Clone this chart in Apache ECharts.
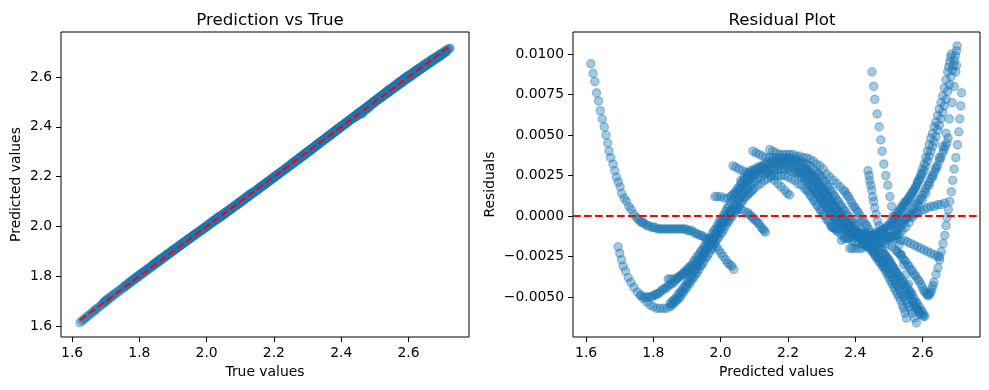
<!DOCTYPE html>
<html><head><meta charset="utf-8">
<script src="https://cdn.jsdelivr.net/npm/echarts@6.0.0/dist/echarts.min.js"></script>
<style>html,body{margin:0;padding:0;background:#fff}#c{width:989px;height:390px}</style>
</head><body><div id="c"></div>
<script>
// Each track: [predicted value, residual]
const trackA = [[1.614,0.0094],[1.621,0.0088],[1.626,0.0083],[1.631,0.0076],[1.637,0.0071],[1.642,0.0065],[1.648,0.0060],[1.654,0.0055],[1.659,0.0050],[1.664,0.0045],[1.668,0.0040],[1.673,0.0036],[1.680,0.0032],[1.685,0.0028],[1.690,0.0024],[1.696,0.0021],[1.701,0.0018],[1.706,0.0014],[1.713,0.0011],[1.720,0.0009],[1.727,0.0006],[1.734,0.0004],[1.742,0.0001],[1.750,-0.0001],[1.755,-0.0002],[1.760,-0.0003],[1.765,-0.0004],[1.770,-0.0004],[1.775,-0.0005],[1.781,-0.0006],[1.787,-0.0006],[1.794,-0.0007],[1.800,-0.0007],[1.806,-0.0007],[1.812,-0.0008],[1.818,-0.0008],[1.824,-0.0008],[1.830,-0.0008],[1.836,-0.0008],[1.842,-0.0008],[1.848,-0.0008],[1.854,-0.0008],[1.860,-0.0008],[1.866,-0.0008],[1.872,-0.0008],[1.878,-0.0008],[1.884,-0.0008],[1.890,-0.0008],[1.896,-0.0008],[1.902,-0.0009],[1.908,-0.0009],[1.914,-0.0009],[1.920,-0.0010],[1.926,-0.0011],[1.932,-0.0011],[1.938,-0.0012],[1.944,-0.0012],[1.950,-0.0013],[1.956,-0.0014],[1.962,-0.0014],[1.968,-0.0015],[1.974,-0.0016],[1.980,-0.0017],[1.987,-0.0019],[1.994,-0.0021],[2.001,-0.0023],[2.008,-0.0025],[2.015,-0.0027],[2.021,-0.0029],[2.027,-0.0030],[2.033,-0.0031],[2.039,-0.0033]];
const trackL1 = [[1.695,-0.0019],[1.700,-0.0023],[1.705,-0.0027],[1.710,-0.0031],[1.717,-0.0034],[1.725,-0.0038],[1.733,-0.0041],[1.742,-0.0044],[1.752,-0.0047],[1.762,-0.0049],[1.775,-0.0050],[1.782,-0.0050],[1.789,-0.0050],[1.795,-0.0050],[1.800,-0.0049],[1.805,-0.0049],[1.810,-0.0048],[1.815,-0.0048],[1.820,-0.0047],[1.825,-0.0046],[1.830,-0.0045],[1.835,-0.0045],[1.840,-0.0044],[1.845,-0.0043],[1.850,-0.0042],[1.855,-0.0042],[1.860,-0.0041],[1.865,-0.0040],[1.870,-0.0039],[1.875,-0.0038],[1.880,-0.0037],[1.885,-0.0036],[1.890,-0.0035],[1.895,-0.0034],[1.900,-0.0033],[1.905,-0.0032],[1.910,-0.0031],[1.915,-0.0030],[1.920,-0.0028],[1.925,-0.0027],[1.930,-0.0025],[1.935,-0.0024],[1.940,-0.0022],[1.945,-0.0021],[1.950,-0.0019],[1.955,-0.0018],[1.960,-0.0016],[1.965,-0.0014],[1.970,-0.0013],[1.975,-0.0011],[1.980,-0.0009],[1.985,-0.0008],[1.990,-0.0006],[1.995,-0.0004],[2.000,-0.0002],[2.005,-0.0001],[2.010,0.0001],[2.015,0.0003],[2.020,0.0005],[2.025,0.0006],[2.030,0.0008],[2.035,0.0010],[2.040,0.0011],[2.045,0.0013],[2.050,0.0014],[2.055,0.0016],[2.060,0.0017],[2.065,0.0018],[2.070,0.0019],[2.075,0.0020],[2.080,0.0021],[2.085,0.0022],[2.090,0.0023],[2.095,0.0024],[2.100,0.0025],[2.110,0.0026],[2.120,0.0027],[2.130,0.0028],[2.140,0.0029],[2.150,0.0030],[2.160,0.0030],[2.170,0.0031],[2.180,0.0031],[2.190,0.0031],[2.200,0.0030],[2.210,0.0030],[2.220,0.0029],[2.225,0.0028],[2.230,0.0027],[2.235,0.0027],[2.240,0.0026],[2.245,0.0025],[2.250,0.0024],[2.255,0.0023],[2.260,0.0022],[2.265,0.0020],[2.270,0.0019],[2.275,0.0018],[2.280,0.0017],[2.285,0.0015],[2.290,0.0014],[2.295,0.0012],[2.300,0.0011],[2.305,0.0009],[2.310,0.0008],[2.315,0.0006],[2.320,0.0005],[2.325,0.0003],[2.330,0.0002],[2.335,0.0000],[2.340,-0.0001],[2.345,-0.0002],[2.350,-0.0003],[2.355,-0.0004],[2.360,-0.0005],[2.365,-0.0006],[2.370,-0.0007],[2.375,-0.0008],[2.380,-0.0009],[2.385,-0.0010],[2.390,-0.0010],[2.395,-0.0011],[2.400,-0.0012],[2.405,-0.0012],[2.410,-0.0013],[2.415,-0.0014],[2.420,-0.0015],[2.425,-0.0016],[2.430,-0.0017],[2.435,-0.0018],[2.440,-0.0019],[2.445,-0.0020],[2.450,-0.0022],[2.455,-0.0023],[2.460,-0.0025],[2.465,-0.0026],[2.470,-0.0028],[2.475,-0.0029],[2.480,-0.0031],[2.485,-0.0032],[2.490,-0.0034],[2.495,-0.0036],[2.500,-0.0038],[2.505,-0.0040],[2.510,-0.0042],[2.515,-0.0044],[2.520,-0.0046],[2.525,-0.0048],[2.530,-0.0050],[2.535,-0.0052],[2.540,-0.0055],[2.544,-0.0057],[2.548,-0.0060],[2.552,-0.0063]];
const trackL2 = [[1.762,-0.0049],[1.770,-0.0051],[1.780,-0.0053],[1.790,-0.0055],[1.800,-0.0056],[1.810,-0.0057],[1.820,-0.0057],[1.830,-0.0057],[1.840,-0.0057],[1.850,-0.0056],[1.855,-0.0055],[1.860,-0.0054],[1.865,-0.0053],[1.870,-0.0052],[1.875,-0.0051],[1.880,-0.0050],[1.885,-0.0048],[1.890,-0.0047],[1.895,-0.0045],[1.900,-0.0044],[1.905,-0.0042],[1.910,-0.0041],[1.915,-0.0039],[1.920,-0.0038],[1.925,-0.0036],[1.930,-0.0035],[1.935,-0.0033],[1.940,-0.0031],[1.945,-0.0030],[1.950,-0.0028],[1.955,-0.0026],[1.960,-0.0025],[1.965,-0.0023],[1.970,-0.0021],[1.975,-0.0020],[1.980,-0.0018],[1.985,-0.0016],[1.990,-0.0014],[1.995,-0.0013],[2.000,-0.0011],[2.005,-0.0010],[2.010,-0.0008],[2.015,-0.0006],[2.020,-0.0004],[2.025,-0.0003],[2.030,-0.0001],[2.035,0.0000],[2.040,0.0002],[2.045,0.0003],[2.050,0.0005],[2.055,0.0006],[2.060,0.0008],[2.065,0.0009],[2.070,0.0011],[2.075,0.0012],[2.080,0.0013],[2.085,0.0014],[2.090,0.0015],[2.095,0.0016],[2.100,0.0017],[2.110,0.0019],[2.120,0.0020],[2.130,0.0022],[2.140,0.0023],[2.150,0.0024],[2.160,0.0025],[2.170,0.0025],[2.180,0.0025],[2.190,0.0025],[2.200,0.0024],[2.210,0.0023],[2.220,0.0022],[2.230,0.0020],[2.240,0.0019],[2.250,0.0017],[2.255,0.0016],[2.260,0.0015],[2.265,0.0013],[2.270,0.0012],[2.275,0.0010],[2.280,0.0009],[2.285,0.0007],[2.290,0.0006],[2.295,0.0004],[2.300,0.0003],[2.305,0.0001],[2.310,0.0000],[2.315,-0.0002],[2.320,-0.0003],[2.325,-0.0005],[2.330,-0.0006],[2.335,-0.0007],[2.340,-0.0008],[2.345,-0.0009],[2.350,-0.0010],[2.360,-0.0012],[2.370,-0.0013],[2.380,-0.0014],[2.390,-0.0015],[2.400,-0.0016],[2.410,-0.0017],[2.420,-0.0017],[2.430,-0.0018],[2.440,-0.0019],[2.445,-0.0020],[2.450,-0.0021],[2.455,-0.0022],[2.460,-0.0023],[2.465,-0.0025],[2.470,-0.0026],[2.475,-0.0027],[2.480,-0.0029],[2.485,-0.0030],[2.490,-0.0032],[2.495,-0.0033],[2.500,-0.0035],[2.505,-0.0036],[2.510,-0.0038],[2.515,-0.0040],[2.520,-0.0042],[2.525,-0.0043],[2.530,-0.0045],[2.535,-0.0047],[2.540,-0.0049],[2.545,-0.0050],[2.550,-0.0052],[2.555,-0.0054],[2.560,-0.0056],[2.565,-0.0058],[2.570,-0.0060],[2.576,-0.0063],[2.582,-0.0066]];
const trackL2b = [[1.850,-0.0054],[1.855,-0.0053],[1.860,-0.0052],[1.865,-0.0051],[1.870,-0.0050],[1.875,-0.0048],[1.880,-0.0047],[1.885,-0.0046],[1.890,-0.0044],[1.895,-0.0043],[1.900,-0.0041],[1.905,-0.0040],[1.910,-0.0038],[1.915,-0.0036],[1.920,-0.0034],[1.925,-0.0033],[1.930,-0.0031],[1.935,-0.0029],[1.940,-0.0027],[1.945,-0.0026],[1.950,-0.0024],[1.955,-0.0022],[1.960,-0.0020],[1.965,-0.0019],[1.970,-0.0017],[1.975,-0.0015],[1.980,-0.0013],[1.985,-0.0011],[1.990,-0.0009],[1.995,-0.0007],[2.000,-0.0005],[2.005,-0.0004],[2.010,-0.0002],[2.015,-0.0001],[2.020,0.0001],[2.025,0.0002],[2.030,0.0003],[2.035,0.0003],[2.040,0.0004],[2.050,0.0004],[2.060,0.0004],[2.070,0.0003],[2.080,0.0002],[2.085,0.0001],[2.090,0.0000],[2.095,-0.0001],[2.100,-0.0002],[2.105,-0.0003],[2.110,-0.0004],[2.115,-0.0005],[2.120,-0.0007],[2.125,-0.0008],[2.129,-0.0009],[2.133,-0.0010]];
const trackL3 = [[1.844,-0.0039],[1.850,-0.0039],[1.860,-0.0039],[1.870,-0.0038],[1.880,-0.0037],[1.890,-0.0036],[1.900,-0.0035],[1.905,-0.0034],[1.910,-0.0033],[1.915,-0.0032],[1.920,-0.0031],[1.925,-0.0030],[1.930,-0.0029],[1.935,-0.0027],[1.940,-0.0026],[1.945,-0.0024],[1.950,-0.0023],[1.955,-0.0021],[1.960,-0.0020],[1.965,-0.0018],[1.970,-0.0017],[1.975,-0.0015],[1.980,-0.0014],[1.985,-0.0012],[1.990,-0.0011],[1.995,-0.0009],[2.000,-0.0008],[2.005,-0.0006],[2.010,-0.0004],[2.015,-0.0003],[2.020,-0.0001],[2.025,0.0001],[2.030,0.0003],[2.035,0.0004],[2.040,0.0006],[2.045,0.0007],[2.050,0.0009],[2.055,0.0010],[2.060,0.0012],[2.065,0.0013],[2.070,0.0015],[2.075,0.0016],[2.080,0.0017],[2.090,0.0019],[2.100,0.0021],[2.110,0.0023],[2.120,0.0024],[2.130,0.0026],[2.140,0.0027],[2.150,0.0028],[2.160,0.0028],[2.170,0.0029],[2.180,0.0029],[2.190,0.0029],[2.200,0.0029],[2.210,0.0028],[2.220,0.0027],[2.230,0.0026],[2.240,0.0024],[2.250,0.0022],[2.260,0.0020],[2.270,0.0018],[2.275,0.0017],[2.280,0.0015],[2.285,0.0014],[2.290,0.0013],[2.295,0.0011],[2.300,0.0010],[2.305,0.0008],[2.310,0.0007],[2.315,0.0005],[2.320,0.0004],[2.325,0.0002],[2.330,0.0001],[2.335,0.0000],[2.340,-0.0002],[2.345,-0.0003],[2.350,-0.0004],[2.360,-0.0006],[2.370,-0.0008],[2.380,-0.0010],[2.390,-0.0011],[2.400,-0.0012],[2.410,-0.0013],[2.420,-0.0014],[2.430,-0.0015],[2.440,-0.0016],[2.450,-0.0017],[2.460,-0.0019],[2.470,-0.0021],[2.480,-0.0023],[2.490,-0.0025],[2.495,-0.0026],[2.500,-0.0028],[2.505,-0.0029],[2.510,-0.0031],[2.515,-0.0032],[2.520,-0.0034],[2.525,-0.0035],[2.530,-0.0037],[2.535,-0.0038],[2.540,-0.0040],[2.545,-0.0041],[2.550,-0.0043],[2.555,-0.0044],[2.560,-0.0046],[2.565,-0.0047],[2.570,-0.0049],[2.575,-0.0051],[2.580,-0.0053],[2.585,-0.0054],[2.590,-0.0056],[2.595,-0.0058],[2.600,-0.0059],[2.604,-0.0061],[2.607,-0.0062]];
const trackL4 = [[1.983,0.0012],[1.990,0.0012],[2.000,0.0012],[2.010,0.0011],[2.020,0.0011],[2.030,0.0012],[2.035,0.0013],[2.040,0.0014],[2.045,0.0015],[2.050,0.0017],[2.055,0.0018],[2.060,0.0020],[2.065,0.0021],[2.070,0.0022],[2.075,0.0023],[2.080,0.0024],[2.085,0.0025],[2.090,0.0026],[2.100,0.0028],[2.110,0.0029],[2.120,0.0031],[2.130,0.0032],[2.140,0.0033],[2.150,0.0034],[2.160,0.0034],[2.170,0.0035],[2.180,0.0035],[2.190,0.0035],[2.200,0.0035],[2.210,0.0034],[2.220,0.0034],[2.230,0.0033],[2.240,0.0032],[2.250,0.0030],[2.255,0.0029],[2.260,0.0028],[2.265,0.0027],[2.270,0.0026],[2.275,0.0025],[2.280,0.0024],[2.285,0.0022],[2.290,0.0021],[2.295,0.0019],[2.300,0.0018],[2.305,0.0016],[2.310,0.0015],[2.315,0.0013],[2.320,0.0012],[2.325,0.0010],[2.330,0.0009],[2.335,0.0007],[2.340,0.0006],[2.345,0.0004],[2.350,0.0003],[2.355,0.0001],[2.360,0.0000],[2.365,-0.0002],[2.370,-0.0003],[2.375,-0.0004],[2.380,-0.0005],[2.385,-0.0006],[2.390,-0.0007],[2.400,-0.0009],[2.410,-0.0010],[2.420,-0.0011],[2.430,-0.0012],[2.440,-0.0012],[2.450,-0.0013],[2.460,-0.0014],[2.470,-0.0015],[2.480,-0.0016],[2.490,-0.0017],[2.500,-0.0018],[2.510,-0.0019],[2.520,-0.0021],[2.525,-0.0022],[2.530,-0.0023],[2.535,-0.0024],[2.540,-0.0026],[2.545,-0.0027],[2.550,-0.0028],[2.555,-0.0030],[2.560,-0.0031],[2.565,-0.0033],[2.570,-0.0034],[2.575,-0.0036],[2.580,-0.0037],[2.585,-0.0039],[2.590,-0.0040],[2.595,-0.0042],[2.600,-0.0044],[2.604,-0.0046],[2.608,-0.0047],[2.612,-0.0048],[2.615,-0.0049],[2.619,-0.0049],[2.622,-0.0048],[2.625,-0.0047],[2.628,-0.0045],[2.631,-0.0043],[2.634,-0.0041],[2.640,-0.0036],[2.646,-0.0032],[2.651,-0.0027],[2.656,-0.0022],[2.661,-0.0017],[2.666,-0.0012],[2.670,-0.0006],[2.673,-0.0001],[2.677,0.0004],[2.681,0.0009],[2.686,0.0015],[2.690,0.0022],[2.694,0.0029],[2.699,0.0036],[2.704,0.0044],[2.708,0.0052],[2.711,0.0060],[2.714,0.0068],[2.716,0.0076]];
const trackL5 = [[2.037,0.0031],[2.045,0.0030],[2.055,0.0029],[2.065,0.0028],[2.075,0.0027],[2.085,0.0027],[2.095,0.0027],[2.105,0.0028],[2.115,0.0029],[2.125,0.0030],[2.135,0.0031],[2.145,0.0032],[2.155,0.0033],[2.165,0.0033],[2.175,0.0033],[2.185,0.0033],[2.195,0.0033],[2.205,0.0033],[2.215,0.0032],[2.225,0.0032],[2.235,0.0031],[2.245,0.0029],[2.250,0.0028],[2.255,0.0027],[2.260,0.0026],[2.265,0.0025],[2.270,0.0024],[2.275,0.0023],[2.280,0.0022],[2.285,0.0021],[2.290,0.0019],[2.295,0.0018],[2.300,0.0017],[2.305,0.0016],[2.310,0.0014],[2.315,0.0013],[2.320,0.0011],[2.325,0.0010],[2.330,0.0008],[2.335,0.0007],[2.340,0.0005],[2.345,0.0004],[2.350,0.0002],[2.355,0.0001],[2.360,-0.0001],[2.365,-0.0002],[2.370,-0.0003],[2.375,-0.0004],[2.380,-0.0006],[2.385,-0.0007],[2.390,-0.0008],[2.395,-0.0009],[2.405,-0.0010],[2.415,-0.0011],[2.425,-0.0012],[2.435,-0.0013],[2.445,-0.0013],[2.455,-0.0013],[2.465,-0.0012],[2.475,-0.0011],[2.485,-0.0010],[2.495,-0.0008],[2.505,-0.0006],[2.510,-0.0005],[2.515,-0.0003],[2.520,-0.0002],[2.525,0.0000],[2.530,0.0001],[2.535,0.0003],[2.540,0.0004],[2.545,0.0006],[2.550,0.0007],[2.555,0.0009],[2.560,0.0010],[2.565,0.0012],[2.570,0.0014],[2.575,0.0016],[2.580,0.0018],[2.585,0.0020],[2.590,0.0022],[2.595,0.0024],[2.600,0.0026],[2.605,0.0028],[2.610,0.0031],[2.615,0.0034],[2.620,0.0037],[2.625,0.0040],[2.630,0.0043],[2.635,0.0046],[2.640,0.0049],[2.645,0.0053],[2.650,0.0056],[2.655,0.0060],[2.660,0.0064],[2.665,0.0068],[2.670,0.0072],[2.675,0.0077],[2.680,0.0081],[2.685,0.0086],[2.689,0.0090],[2.692,0.0093],[2.695,0.0096],[2.698,0.0099],[2.701,0.0102],[2.703,0.0105]];
const trackL6 = [[2.096,0.0040],[2.105,0.0039],[2.115,0.0038],[2.125,0.0037],[2.135,0.0036],[2.145,0.0036],[2.155,0.0036],[2.165,0.0036],[2.175,0.0036],[2.185,0.0036],[2.195,0.0036],[2.205,0.0036],[2.215,0.0035],[2.225,0.0035],[2.235,0.0034],[2.245,0.0033],[2.255,0.0032],[2.265,0.0031],[2.275,0.0029],[2.285,0.0027],[2.290,0.0026],[2.295,0.0025],[2.300,0.0024],[2.305,0.0022],[2.310,0.0021],[2.315,0.0019],[2.320,0.0018],[2.325,0.0016],[2.330,0.0015],[2.335,0.0013],[2.340,0.0012],[2.345,0.0010],[2.350,0.0009],[2.355,0.0007],[2.360,0.0006],[2.365,0.0004],[2.370,0.0003],[2.375,0.0001],[2.380,0.0000],[2.385,-0.0002],[2.390,-0.0003],[2.395,-0.0004],[2.400,-0.0005],[2.405,-0.0006],[2.415,-0.0008],[2.425,-0.0010],[2.435,-0.0011],[2.445,-0.0012],[2.455,-0.0012],[2.465,-0.0011],[2.475,-0.0010],[2.485,-0.0008],[2.495,-0.0006],[2.505,-0.0004],[2.510,-0.0003],[2.515,-0.0001],[2.520,0.0000],[2.525,0.0002],[2.530,0.0003],[2.535,0.0005],[2.540,0.0006],[2.545,0.0008],[2.550,0.0009],[2.555,0.0010],[2.560,0.0012],[2.565,0.0013],[2.570,0.0015],[2.575,0.0016],[2.580,0.0018],[2.585,0.0021],[2.590,0.0023],[2.595,0.0026],[2.600,0.0029],[2.605,0.0032],[2.610,0.0036],[2.615,0.0040],[2.620,0.0044],[2.625,0.0048],[2.630,0.0051],[2.635,0.0055],[2.640,0.0058],[2.645,0.0062],[2.650,0.0066],[2.655,0.0070],[2.660,0.0074],[2.665,0.0079],[2.670,0.0084],[2.675,0.0089],[2.678,0.0092],[2.681,0.0095],[2.684,0.0098],[2.686,0.0100]];
const trackL7 = [[2.146,0.0041],[2.155,0.0040],[2.165,0.0039],[2.175,0.0038],[2.185,0.0038],[2.195,0.0038],[2.205,0.0038],[2.215,0.0038],[2.225,0.0037],[2.235,0.0037],[2.245,0.0036],[2.255,0.0036],[2.265,0.0035],[2.275,0.0034],[2.285,0.0032],[2.295,0.0031],[2.305,0.0029],[2.315,0.0026],[2.325,0.0024],[2.335,0.0022],[2.345,0.0020],[2.355,0.0018],[2.365,0.0016],[2.370,0.0015],[2.375,0.0013],[2.380,0.0012],[2.385,0.0010],[2.390,0.0008],[2.395,0.0006],[2.400,0.0005],[2.405,0.0003],[2.410,0.0002],[2.415,0.0000],[2.420,-0.0002],[2.425,-0.0003],[2.430,-0.0005],[2.435,-0.0006],[2.440,-0.0008],[2.445,-0.0010],[2.450,-0.0012],[2.455,-0.0014],[2.460,-0.0015],[2.465,-0.0017],[2.470,-0.0018],[2.475,-0.0020],[2.480,-0.0021],[2.485,-0.0023],[2.490,-0.0024],[2.495,-0.0026],[2.500,-0.0027],[2.505,-0.0029],[2.510,-0.0031],[2.515,-0.0033],[2.520,-0.0035],[2.525,-0.0037],[2.530,-0.0039],[2.535,-0.0041],[2.540,-0.0042],[2.545,-0.0044],[2.550,-0.0046],[2.555,-0.0048],[2.560,-0.0049],[2.565,-0.0051],[2.570,-0.0053],[2.575,-0.0055],[2.580,-0.0056],[2.585,-0.0058],[2.590,-0.0059],[2.595,-0.0061],[2.602,-0.0062]];
const trackSb = [[2.060,0.0022],[2.070,0.0024],[2.080,0.0026],[2.090,0.0028],[2.100,0.0029],[2.110,0.0030],[2.120,0.0030],[2.130,0.0029],[2.140,0.0027],[2.150,0.0025],[2.160,0.0022],[2.170,0.0020],[2.180,0.0018],[2.190,0.0016],[2.198,0.0014],[2.205,0.0013]];
const trackF1 = [[2.330,-0.0007],[2.337,-0.0007],[2.345,-0.0008],[2.355,-0.0008],[2.365,-0.0009],[2.375,-0.0009],[2.385,-0.0010],[2.395,-0.0010],[2.405,-0.0011],[2.415,-0.0011],[2.425,-0.0012],[2.435,-0.0012],[2.445,-0.0012],[2.455,-0.0011],[2.465,-0.0010],[2.475,-0.0009],[2.485,-0.0008],[2.495,-0.0007],[2.505,-0.0006],[2.515,-0.0005],[2.525,-0.0004],[2.535,-0.0003],[2.545,-0.0002],[2.555,-0.0001],[2.565,0.0000],[2.575,0.0001],[2.585,0.0002],[2.595,0.0003],[2.605,0.0004],[2.615,0.0005],[2.625,0.0006],[2.635,0.0006],[2.645,0.0007],[2.655,0.0007],[2.666,0.0008]];
const trackF2 = [[2.359,-0.0015],[2.367,-0.0014],[2.375,-0.0014],[2.385,-0.0013],[2.395,-0.0013],[2.405,-0.0012],[2.415,-0.0012],[2.425,-0.0012],[2.435,-0.0012],[2.445,-0.0012],[2.455,-0.0012],[2.465,-0.0012],[2.475,-0.0012],[2.485,-0.0013],[2.495,-0.0013],[2.505,-0.0013],[2.515,-0.0014],[2.525,-0.0014],[2.535,-0.0015],[2.545,-0.0015],[2.555,-0.0016],[2.565,-0.0017],[2.575,-0.0018],[2.585,-0.0019],[2.595,-0.0020],[2.605,-0.0021],[2.615,-0.0022],[2.625,-0.0023],[2.635,-0.0024],[2.645,-0.0025],[2.651,-0.0025]];
const trackF3 = [[2.384,-0.0020],[2.391,-0.0020],[2.400,-0.0020],[2.410,-0.0020],[2.420,-0.0020],[2.430,-0.0019],[2.440,-0.0019],[2.450,-0.0018],[2.460,-0.0018],[2.470,-0.0017],[2.480,-0.0016],[2.490,-0.0015],[2.500,-0.0014],[2.505,-0.0013],[2.510,-0.0012],[2.515,-0.0011],[2.520,-0.0010],[2.525,-0.0009],[2.530,-0.0008],[2.535,-0.0007],[2.540,-0.0005],[2.545,-0.0004],[2.550,-0.0002],[2.555,-0.0001],[2.560,0.0001],[2.565,0.0002],[2.570,0.0004],[2.575,0.0005],[2.580,0.0007],[2.585,0.0008],[2.590,0.0010],[2.595,0.0011],[2.600,0.0013],[2.605,0.0015],[2.610,0.0017],[2.615,0.0019],[2.620,0.0021],[2.625,0.0023],[2.630,0.0025],[2.635,0.0027],[2.640,0.0029],[2.645,0.0031],[2.650,0.0034],[2.655,0.0036],[2.660,0.0039],[2.664,0.0041],[2.668,0.0043],[2.672,0.0045],[2.676,0.0048]];
const trackC = [[2.450,0.0089],[2.455,0.0080],[2.458,0.0072],[2.465,0.0063],[2.471,0.0055],[2.476,0.0047],[2.480,0.0040],[2.485,0.0032],[2.491,0.0025],[2.497,0.0019],[2.503,0.0012],[2.508,0.0006],[2.513,0.0000],[2.518,-0.0006],[2.524,-0.0012],[2.530,-0.0018],[2.537,-0.0024],[2.544,-0.0030],[2.551,-0.0036],[2.558,-0.0042],[2.566,-0.0048],[2.574,-0.0053],[2.583,-0.0057],[2.592,-0.0060]];
const trackD = [[2.438,0.0028],[2.441,0.0025],[2.443,0.0022],[2.446,0.0019],[2.449,0.0016],[2.452,0.0012],[2.455,0.0009],[2.458,0.0005],[2.462,0.0001],[2.466,-0.0003],[2.471,-0.0006],[2.477,-0.0009],[2.484,-0.0011],[2.492,-0.0012],[2.500,-0.0013],[2.510,-0.0013],[2.520,-0.0012],[2.530,-0.0011],[2.540,-0.0009],[2.550,-0.0007],[2.560,-0.0004],[2.570,-0.0001],[2.580,0.0002],[2.590,0.0006],[2.600,0.0010],[2.610,0.0014],[2.620,0.0019],[2.630,0.0024],[2.640,0.0030],[2.650,0.0036],[2.660,0.0043],[2.670,0.0051],[2.680,0.0060],[2.688,0.0070],[2.694,0.0080],[2.699,0.0089],[2.701,0.0093]];

const xTicks = [1.6, 1.8, 2.0, 2.2, 2.4, 2.6];
const yTicksLeft = [1.6, 1.8, 2.0, 2.2, 2.4, 2.6];
const yTicksRight = [-0.005, -0.0025, 0, 0.0025, 0.005, 0.0075, 0.01];

const tracks = [trackA, trackL1, trackL2, trackL2b, trackL3, trackL4, trackL5, trackL6, trackL7, trackSb, trackF1, trackF2, trackF3, trackC, trackD];
const residPoints = tracks.flat();
// true = predicted + residual
const truePred = residPoints.map(([p, r]) => [p + r, p]);
const trueVals = truePred.map(d => d[0]);
const tMin = Math.min(...trueVals), tMax = Math.max(...trueVals);

const FONT = 'DejaVu Sans';
const fmt1 = v => v.toFixed(1);
const fmt4 = v => (Math.abs(v) < 1e-12 ? '0.0000' : v.toFixed(4).replace('-', '\u2212'));
const dot = { color: 'rgba(31,119,180,0.5)', borderColor: 'rgba(31,119,180,0.5)', borderWidth: 1.3 };
const redDash = { color: '#ff0000', width: 2, type: [7.7, 3.3] };

function ax(extra, ticks, fmt) {
  return Object.assign({
    type: 'value', scale: true,
    axisLine: { show: false, onZero: false }, splitLine: { show: false },
    axisTick: { show: true, length: 5, lineStyle: { color: '#000', width: 1 }, customValues: ticks },
    axisLabel: { show: true, margin: 9, color: '#000', fontFamily: FONT, fontSize: 13.9, customValues: ticks, formatter: fmt },
    nameLocation: 'middle',
    nameTextStyle: { color: '#000', fontFamily: FONT, fontSize: 13.9 }
  }, extra);
}

const chart = echarts.init(document.getElementById('c'), null, { renderer: 'canvas' });
chart.setOption({
  animation: false,
  backgroundColor: '#fff',
  title: [
    { text: 'Prediction vs True', left: 265, top: 7, textAlign: 'center', textStyle: { fontFamily: FONT, fontSize: 16.7, fontWeight: 'normal', color: '#000' } },
    { text: 'Residual Plot', left: 777, top: 7, textAlign: 'center', textStyle: { fontFamily: FONT, fontSize: 16.7, fontWeight: 'normal', color: '#000' } }
  ],
  grid: [
    { left: 61, top: 32, width: 408, height: 305, show: true, borderColor: '#000', borderWidth: 1, backgroundColor: 'transparent' },
    { left: 573, top: 32, width: 407, height: 305, show: true, borderColor: '#000', borderWidth: 1, backgroundColor: 'transparent' }
  ],
  xAxis: [
    ax({ gridIndex: 0, min: 1.567, max: 2.780, name: 'True values', nameGap: 28 }, xTicks, fmt1),
    ax({ gridIndex: 1, min: 1.561, max: 2.771, name: 'Predicted values', nameGap: 28 }, xTicks, fmt1)
  ],
  yAxis: [
    ax({ gridIndex: 0, min: 1.556, max: 2.781, name: 'Predicted values', nameGap: 38, nameRotate: 90 }, yTicksLeft, fmt1),
    ax({ gridIndex: 1, min: -0.00747, max: 0.01136, name: 'Residuals', nameGap: 76, nameRotate: 90 }, yTicksRight, fmt4)
  ],
  series: [
    { type: 'scatter', xAxisIndex: 0, yAxisIndex: 0, data: truePred, symbol: 'circle', symbolSize: 8.3, itemStyle: dot, silent: true, z: 2 },
    { type: 'line', xAxisIndex: 0, yAxisIndex: 0, data: [[tMin, tMin], [tMax, tMax]], symbol: 'none', lineStyle: redDash, silent: true, z: 5 },
    { type: 'scatter', xAxisIndex: 1, yAxisIndex: 1, data: residPoints, symbol: 'circle', symbolSize: 8.3, itemStyle: dot, silent: true, z: 2 },
    { type: 'line', xAxisIndex: 1, yAxisIndex: 1, data: [], z: 5, silent: true,
      markLine: { silent: true, symbol: ['none', 'none'], label: { show: false }, lineStyle: redDash, data: [{ yAxis: 0 }], animation: false } }
  ]
});
</script>
</body></html>
